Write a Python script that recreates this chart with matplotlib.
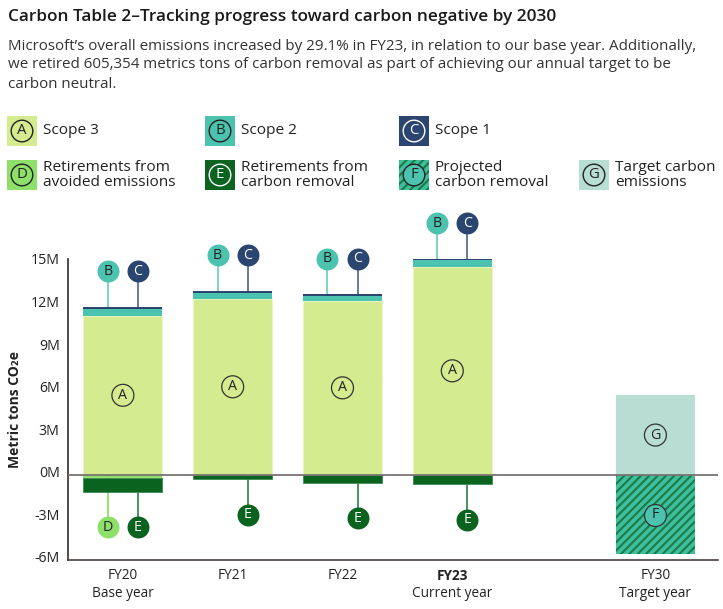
import matplotlib
matplotlib.use("Agg")
import matplotlib.pyplot as plt
from matplotlib.patches import Rectangle
from matplotlib.transforms import ScaledTranslation

plt.rcParams['font.family'] = ['Open Sans', 'DejaVu Sans']
plt.rcParams['hatch.linewidth'] = 1.5

# ---------------- data (million metric tons CO2e) ----------------
years = ["FY20", "FY21", "FY22", "FY23", "FY30"]
year_sub = ["Base year", "", "", "Current year", "Target year"]
scope3 = [11.2, 12.4, 12.25, 14.65]
scope2 = [0.50, 0.42, 0.32, 0.45]
scope1 = [0.12, 0.14, 0.13, 0.12]
avoided = [0.2, 0.0, 0.0, 0.0]          # retirements from avoided emissions
removal = [1.0, 0.30, 0.55, 0.65]       # retirements from carbon removal
target_fy30 = 5.6
projected_fy30 = 5.6
yticks = [15, 12, 9, 6, 3, 0, -3, -6]
positions = [0, 1, 2, 3, 4.85]

# ---------------- colours ----------------
C_A = "#D5EB8F"
C_B = "#4CC3AE"
C_C = "#2B4571"
C_D = "#8EE06A"
C_E = "#0B6320"
C_F = "#3DBF9E"
C_G = "#B8DDD3"
TXT = "#222222"

fig = plt.figure(figsize=(7.23, 6.09), dpi=100)
ax = fig.add_axes([68/723, 1-560/609, 650/723, (560-259)/609])

W = 0.72
xs = positions[:4]
bot2 = [a for a in scope3]
bot1 = [a + b for a, b in zip(scope3, scope2)]
tops = [a + b + c for a, b, c in zip(scope3, scope2, scope1)]
ax.bar(xs, scope3, W, color=C_A, edgecolor="#e9f4c4", lw=0.6, zorder=2)
ax.bar(xs, scope2, W, bottom=bot2, color=C_B, lw=0, zorder=2)
ax.bar(xs, scope1, W, bottom=bot1, color=C_C, lw=0, zorder=2)
negD = [-v for v in avoided]
ax.bar(xs, negD, W, color=C_D, lw=0, zorder=2)
negE = [-v for v in removal]
ax.bar(xs, negE, W, bottom=negD, color=C_E, edgecolor="#3d8a55", lw=0.6, zorder=2)
negbot = [d + e for d, e in zip(negD, negE)]

x30 = positions[4]
ax.bar([x30], [target_fy30], W, color=C_G, lw=0, zorder=2)
ax.bar([x30], [-projected_fy30], W, color=C_F, edgecolor="#1B7A48", hatch="////", lw=0, zorder=2)

ax.axhline(0, color="#7a7373", lw=1.3, zorder=3)

R_S = 250  # circle marker area (pt^2)
OFF = 2.5
DX = 0.137

def bubble(x, y, letter, face, txtcol, edge=None, lw=0):
    ax.scatter([x], [y], s=R_S, c=[face] if face != "none" else "none",
               edgecolors=edge if edge else face, linewidths=lw, zorder=6, clip_on=False)
    ax.text(x, y, letter, ha="center", va="center", fontsize=10.3,
            color=txtcol, zorder=7)

def stem(x, y0, y1, col):
    ax.plot([x, x], [y0, y1], color=col, lw=1.3, zorder=1.5,
            solid_capstyle="butt", clip_on=False)

for i, x in enumerate(xs):
    yb = tops[i] + OFF
    stem(x - DX, yb, tops[i], "#72d2c1")
    stem(x + DX, yb, tops[i], "#5b6f93")
    bubble(x - DX, yb, "B", C_B, TXT)
    bubble(x + DX, yb, "C", C_C, "white")
    bubble(x, scope3[i] / 2, "A", "none", TXT, edge="#333333", lw=0.9)
    ye = negbot[i] - OFF
    if avoided[i] > 0:
        stem(x - DX, ye, 0, C_D)
        bubble(x - DX, ye, "D", C_D, TXT)
    stem(x + DX, ye, negbot[i], "#3d8a55")
    bubble(x + DX, ye, "E", C_E, "white")

bubble(x30, target_fy30 / 2, "G", "none", TXT, edge="#333333", lw=0.9)
bubble(x30, -projected_fy30 / 2, "F", C_B, TXT, edge="#333333", lw=0.9)

ax.set_ylim(-6, 15.2)
ax.set_xlim(-0.5, 5.42)
ax.set_yticks(yticks)
ax.set_yticklabels([f"{v}M" for v in yticks], fontsize=10.2, color=TXT)
ax.tick_params(axis="y", length=0, pad=6)
shift = ScaledTranslation(0, 3/100, fig.dpi_scale_trans)
for lab in ax.get_yticklabels():
    lab.set_transform(lab.get_transform() + shift)
ax.set_xticks(positions)
ax.set_xticklabels([""] * len(positions))
ax.tick_params(axis="x", length=0)
for i, x in enumerate(positions):
    bold = years[i] == "FY23"
    ax.annotate(years[i], (x, 0), xycoords=("data", "axes fraction"),
                xytext=(0, -16/1.389), textcoords="offset points",
                ha="center", va="center", fontsize=9.8, color=TXT,
                fontweight="bold" if bold else "normal")
    if year_sub[i]:
        ax.annotate(year_sub[i], (x, 0), xycoords=("data", "axes fraction"),
                    xytext=(0, -34/1.389), textcoords="offset points",
                    ha="center", va="center", fontsize=9.8, color=TXT)
for s in ["top", "right"]:
    ax.spines[s].set_visible(False)
ax.spines["left"].set_color("#3a2a2a")
ax.spines["bottom"].set_color("#4a3f3f")
ax.spines["left"].set_linewidth(1.2)
ax.spines["bottom"].set_linewidth(1.2)
ax.set_ylabel("Metric tons CO₂e", fontsize=10, fontweight="bold", color=TXT, labelpad=6)

# ---------------- title & subtitle ----------------
fig.text(8/723, 1-17/609, "Carbon Table 2–Tracking progress toward carbon negative by 2030",
         fontsize=12.4, fontweight="semibold", color="#1a1a1a", va="center", ha="left")
sub = ["Microsoft’s overall emissions increased by 29.1% in FY23, in relation to our base year. Additionally,",
       "we retired 605,354 metrics tons of carbon removal as part of achieving our annual target to be",
       "carbon neutral."]
for k, line in enumerate(sub):
    fig.text(8/723, 1-(46 + 19*k)/609, line, fontsize=10.9, color="#333333", va="center", ha="left")

# ---------------- legend ----------------
legend = [
    (7, 131, C_A, "A", TXT, "Scope 3", None),
    (205, 131, C_B, "B", TXT, "Scope 2", None),
    (399, 131, C_C, "C", "white", "Scope 1", None),
    (7, 175, C_D, "D", TXT, "Retirements from\navoided emissions", None),
    (205, 175, C_E, "E", "white", "Retirements from\ncarbon removal", None),
    (399, 175, C_F, "F", TXT, "Projected\ncarbon removal", "////"),
    (579, 175, C_G, "G", TXT, "Target carbon\nemissions", None),
]
BW, BH = 30, 30
for (lx, ly, col, let, tc, label, hatch) in legend:
    rect = Rectangle((lx/723, 1-(ly+BH/2)/609), BW/723, BH/609, transform=fig.transFigure,
                     facecolor=col, edgecolor="#1B7A48" if hatch else "none",
                     hatch=hatch, lw=0)
    fig.patches.append(rect)
    cx, cy = (lx + BW/2)/723, 1-ly/609
    ring = "white" if tc == "white" else "#222222"
    fig.text(cx, cy, let, ha="center", va="center", fontsize=10.8, color=tc,
             bbox=dict(boxstyle="circle,pad=0.22", fc=C_B if let == "F" else "none", ec=ring, lw=1.0))
    fig.text((lx + BW + 6)/723, cy, label, ha="left", va="center", fontsize=11.1,
             color=TXT, linespacing=0.95)

fig.savefig("out.png", dpi=100)
